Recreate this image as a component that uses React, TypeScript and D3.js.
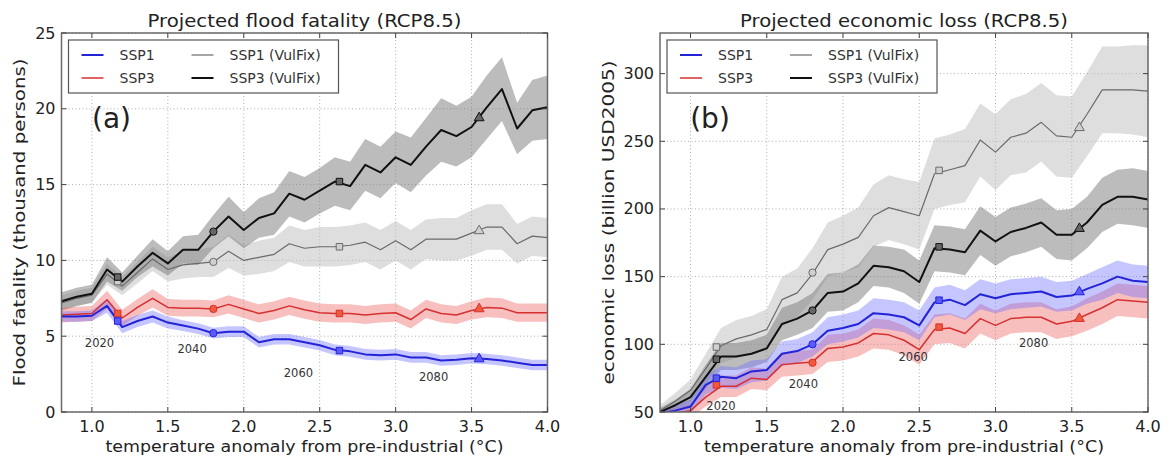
import React from 'react';
import * as d3 from 'd3';

// temperature anomaly from pre-industrial (°C) of every simulated point
const temps = [0.8, 0.9, 1.0, 1.1, 1.2, 1.3, 1.4, 1.5, 1.6, 1.7, 1.8, 1.9, 2.0, 2.1, 2.2, 2.3, 2.4, 2.5, 2.6, 2.7, 2.8, 2.9, 3.0, 3.1, 3.2, 3.3, 3.4, 3.5, 3.6, 3.7, 3.8, 3.9, 4.0];
const xTicks = [1.0, 1.5, 2.0, 2.5, 3.0, 3.5, 4.0];

// years marked on the curves
const markTemps = [1.17, 1.8, 2.63, 3.55];
const markYears = ['2020', '2040', '2060', '2080'];

// (a) flood fatality, thousand persons (value and half spread of the band)
const fatSsp1 = [6.3, 6.3, 6.35, 7.0, 5.6, 6.0, 6.3, 5.9, 5.7, 5.5, 5.2, 5.3, 5.3, 4.6, 4.8, 4.8, 4.6, 4.4, 4.1, 4.0, 3.8, 3.75, 3.8, 3.6, 3.6, 3.4, 3.45, 3.55, 3.5, 3.4, 3.25, 3.1, 3.1];
const fatSsp1Hw = [0.35, 0.35, 0.35, 0.45, 0.4, 0.4, 0.4, 0.4, 0.35, 0.35, 0.35, 0.35, 0.35, 0.35, 0.35, 0.35, 0.35, 0.35, 0.35, 0.35, 0.35, 0.35, 0.35, 0.35, 0.35, 0.35, 0.35, 0.35, 0.35, 0.35, 0.35, 0.35, 0.35];
const fatSsp3 = [6.4, 6.45, 6.5, 7.4, 6.2, 6.9, 7.5, 6.9, 6.85, 6.85, 6.8, 7.1, 6.8, 6.5, 6.7, 7.0, 6.75, 6.55, 6.5, 6.5, 6.4, 6.5, 6.55, 6.1, 6.8, 6.5, 6.4, 6.7, 6.9, 6.85, 6.55, 6.55, 6.55];
const fatSsp3Hw = [0.5, 0.5, 0.5, 0.6, 0.55, 0.55, 0.6, 0.55, 0.55, 0.55, 0.55, 0.6, 0.6, 0.6, 0.6, 0.6, 0.6, 0.6, 0.6, 0.6, 0.6, 0.6, 0.6, 0.6, 0.6, 0.6, 0.6, 0.6, 0.65, 0.65, 0.6, 0.6, 0.6];
const fatSsp1Vul = [7.2, 7.5, 7.7, 9.1, 8.3, 9.2, 10.1, 9.4, 9.7, 9.8, 9.9, 10.6, 10.0, 10.2, 10.4, 11.1, 10.8, 10.9, 10.9, 11.0, 11.2, 10.7, 11.3, 10.7, 11.4, 11.4, 11.4, 11.8, 12.2, 12.2, 11.1, 11.6, 11.5];
const fatSsp1VulHw = [0.5, 0.5, 0.5, 0.7, 0.6, 0.7, 0.8, 0.8, 0.9, 0.9, 1.0, 1.1, 1.0, 1.1, 1.1, 1.2, 1.2, 1.3, 1.3, 1.3, 1.3, 1.3, 1.3, 1.3, 1.3, 1.4, 1.4, 1.5, 1.5, 1.5, 1.3, 1.3, 1.3];
const fatSsp3Vul = [7.3, 7.6, 7.8, 9.4, 8.6, 9.6, 10.5, 9.8, 10.7, 10.7, 11.9, 12.9, 12.0, 12.8, 13.1, 14.4, 14.0, 14.6, 15.2, 14.9, 16.3, 15.8, 16.8, 16.3, 17.5, 18.6, 18.2, 18.8, 20.1, 21.3, 18.7, 19.9, 20.1];
const fatSsp3VulHw = [0.6, 0.6, 0.6, 0.8, 0.6, 0.7, 0.9, 0.8, 0.9, 1.0, 1.1, 1.3, 1.2, 1.3, 1.4, 1.5, 1.5, 1.5, 1.6, 1.6, 1.7, 1.7, 1.7, 1.8, 1.9, 2.1, 2.0, 2.0, 2.1, 2.1, 1.7, 2.0, 2.1];
const fatMarkSsp1 = [6.0, 5.2, 4.05, 3.5];
const fatMarkSsp3 = [6.5, 6.8, 6.5, 6.8];
const fatMarkSsp1Vul = [8.6, 9.9, 10.9, 11.95];
const fatMarkSsp3Vul = [8.9, 11.9, 15.2, 19.4];
const fatYearT = [1.05, 1.66, 2.36, 3.25];
const fatYearV = [4.55, 4.15, 2.6, 2.3];
const fatTicks = [0, 5, 10, 15, 20, 25];

// (b) economic loss, billion USD2005
const lossSsp1 = [49, 51, 54, 70, 76, 75, 80, 81, 93, 95, 100, 110, 112, 115, 123, 122, 120, 114, 131, 133, 129, 137, 134, 137, 138, 139, 135, 136, 141, 145, 150, 147, 146];
const lossSsp1Hw = [3, 4, 5, 7, 8, 8, 8, 8, 9, 9, 9, 10, 10, 10, 11, 11, 11, 11, 11, 11, 11, 11, 11, 11, 11, 11, 11, 11, 11, 12, 12, 12, 12];
const lossSsp3 = [47, 49, 51, 61, 69, 69, 75, 74, 85, 86, 87, 97, 98, 101, 108, 107, 103, 96, 111, 112, 108, 119, 114, 119, 120, 120, 115, 117, 122, 127, 133, 132, 131];
const lossSsp3Hw = [3, 4, 5, 7, 8, 8, 8, 8, 9, 9, 9, 10, 10, 10, 11, 11, 11, 11, 11, 11, 11, 11, 11, 11, 11, 11, 11, 11, 12, 12, 12, 12, 12];
const lossSsp1Vul = [51, 58, 66, 82, 99, 104, 107, 111, 133, 138, 152, 170, 174, 179, 195, 201, 198, 195, 226, 229, 232, 251, 242, 253, 256, 264, 254, 253, 270, 288, 288, 288, 287];
const lossSsp1VulHw = [4, 6, 8, 11, 13, 14, 14, 15, 17, 18, 19, 20, 21, 22, 23, 24, 24, 25, 26, 26, 27, 27, 28, 28, 29, 29, 30, 30, 31, 32, 32, 33, 34];
const lossSsp3Vul = [50, 55, 61, 76, 91, 91, 93, 97, 115, 119, 125, 138, 139, 145, 158, 157, 154, 146, 171, 170, 168, 184, 176, 183, 186, 190, 181, 181, 190, 203, 209, 209, 207];
const lossSsp3VulHw = [3, 4, 6, 9, 10, 10, 10, 10, 12, 12, 13, 14, 14, 14, 15, 15, 16, 16, 17, 17, 17, 18, 18, 18, 18, 18, 18, 19, 19, 20, 20, 21, 21];
const lossMarkSsp1 = [75, 100, 132.6, 138.7];
const lossMarkSsp3 = [70, 86.4, 112.7, 119];
const lossMarkSsp1Vul = [98, 153, 228.5, 260];
const lossMarkSsp3Vul = [89, 125, 172, 185.5];
const lossYearT = [1.2, 1.74, 2.46, 3.25];
const lossYearV = [54.4, 70.6, 90.6, 100.9];
const lossTicks = [50, 100, 150, 200, 250, 300];

const STYLE = {
  ssp1: { line: '#2323d8', width: 2, band: '#6f6fff', op: 0.4, fill: '#5a5aff' },
  ssp3: { line: '#d63030', width: 1.5, band: '#f07070', op: 0.45, fill: '#ee5a3a' },
  ssp1Vul: { line: '#6a6a6a', width: 1.2, band: '#bdbdbd', op: 0.5, fill: '#d0d0d0' },
  ssp3Vul: { line: '#111', width: 2, band: '#7a7a7a', op: 0.5, fill: '#666' },
};
const shapes = [d3.symbolSquare, d3.symbolCircle, d3.symbolSquare, d3.symbolTriangle];

function Panel(props) {
  const { id, left, right, top, bottom, yDomain, yTicks, title, titleLen, yLabel, yLabelX, yLabelLen, xLabelLen, tag, series, yearT, yearV } = props;
  const x = d3.scaleLinear().domain([0.8, 4.0]).range([left, right]);
  const y = d3.scaleLinear().domain(yDomain).range([bottom, top]);
  const cx = (left + right) / 2;
  const cy = (top + bottom) / 2;
  const legX = left + 7;
  const legY = 40;
  const legend = [
    { label: 'SSP1', st: STYLE.ssp1, col: 0, row: 0 },
    { label: 'SSP3', st: STYLE.ssp3, col: 0, row: 1 },
    { label: 'SSP1 (VulFix)', st: STYLE.ssp1Vul, col: 1, row: 0 },
    { label: 'SSP3 (VulFix)', st: STYLE.ssp3Vul, col: 1, row: 1 },
  ];
  return (
    <g>
      <defs>
        <clipPath id={id}>
          <rect x={left} y={top} width={right - left} height={bottom - top} />
        </clipPath>
      </defs>
      {/* grid */}
      {xTicks.map((t) => (
        <line key={'gx' + t} x1={x(t)} x2={x(t)} y1={top} y2={bottom} stroke="#9a9a9a" strokeWidth={0.8} strokeDasharray="1,2.5" />
      ))}
      {yTicks.map((t) => (
        <line key={'gy' + t} x1={left} x2={right} y1={y(t)} y2={y(t)} stroke="#9a9a9a" strokeWidth={0.8} strokeDasharray="1,2.5" />
      ))}
      <g clipPath={`url(#${id})`}>
        {series.map((s) => {
          const area = d3
            .area()
            .x((_, i) => x(temps[i]))
            .y0((d, i) => y(d - s.hw[i]))
            .y1((d, i) => y(d + s.hw[i]));
          return <path key={'b' + s.key} d={area(s.values)} fill={s.st.band} fillOpacity={s.st.op} stroke="none" />;
        })}
        {series.map((s) => {
          const line = d3
            .line()
            .x((_, i) => x(temps[i]))
            .y((d) => y(d));
          return <path key={'l' + s.key} d={line(s.values)} fill="none" stroke={s.st.line} strokeWidth={s.st.width} strokeLinejoin="round" />;
        })}
        {series.map((s) =>
          s.marks.map((v, i) => (
            <path
              key={'m' + s.key + i}
              d={d3.symbol().type(shapes[i]).size(42)()}
              transform={`translate(${x(markTemps[i])},${y(v)})`}
              fill={s.st.fill}
              stroke={s.st.line}
              strokeWidth={1}
            />
          ))
        )}
      </g>
      {yearT.map((t, i) => (
        <text key={'yr' + i} x={x(t)} y={y(yearV[i])} fontSize={11.5} fill="#333" textAnchor="middle" dominantBaseline="central">
          {markYears[i]}
        </text>
      ))}
      {/* frame and ticks */}
      <rect x={left} y={top} width={right - left} height={bottom - top} fill="none" stroke="#6a6a6a" strokeWidth={1.5} />
      {xTicks.map((t) => (
        <g key={'tx' + t}>
          <line x1={x(t)} x2={x(t)} y1={bottom} y2={bottom - 5} stroke="#444" />
          <line x1={x(t)} x2={x(t)} y1={top} y2={top + 5} stroke="#444" />
          <text x={x(t)} y={432} fontSize={16} fill="#222" textAnchor="middle">
            {d3.format('.1f')(t)}
          </text>
        </g>
      ))}
      {yTicks.map((t) => (
        <g key={'ty' + t}>
          <line x1={left} x2={left + 5} y1={y(t)} y2={y(t)} stroke="#444" />
          <line x1={right} x2={right - 5} y1={y(t)} y2={y(t)} stroke="#444" />
          <text x={left - 6} y={y(t)} fontSize={16} fill="#222" textAnchor="end" dominantBaseline="central">
            {t}
          </text>
        </g>
      ))}
      <text x={cx} y={27} fontSize={17} fill="#222" textAnchor="middle" textLength={titleLen} lengthAdjust="spacingAndGlyphs">
        {title}
      </text>
      <text x={cx} y={452} fontSize={16} fill="#222" textAnchor="middle" textLength={xLabelLen} lengthAdjust="spacingAndGlyphs">
        temperature anomaly from pre-industrial (°C)
      </text>
      <text
        transform={`translate(${yLabelX},${cy}) rotate(-90)`}
        fontSize={16}
        fill="#222"
        textAnchor="middle"
        textLength={yLabelLen}
        lengthAdjust="spacingAndGlyphs"
      >
        {yLabel}
      </text>
      <text x={left + 50} y={128} fontSize={28} fill="#222" textAnchor="middle">
        {tag}
      </text>
      {/* legend */}
      <rect x={legX} y={legY} width={270} height={53} fill="#fff" stroke="#555" strokeWidth={1.2} />
      {legend.map((d) => {
        const lx = legX + 13 + d.col * 110;
        const ly = legY + 15 + d.row * 23;
        return (
          <g key={d.label}>
            <line x1={lx} x2={lx + 22} y1={ly} y2={ly} stroke={d.st.line} strokeWidth={d.st.width} />
            <text x={lx + 38} y={ly} fontSize={14} fill="#333" dominantBaseline="central">
              {d.label}
            </text>
          </g>
        );
      })}
    </g>
  );
}

export default function App() {
  const fatSeries = [
    { key: 's1v', values: fatSsp1Vul, hw: fatSsp1VulHw, marks: fatMarkSsp1Vul, st: STYLE.ssp1Vul },
    { key: 's3v', values: fatSsp3Vul, hw: fatSsp3VulHw, marks: fatMarkSsp3Vul, st: STYLE.ssp3Vul },
    { key: 's3', values: fatSsp3, hw: fatSsp3Hw, marks: fatMarkSsp3, st: STYLE.ssp3 },
    { key: 's1', values: fatSsp1, hw: fatSsp1Hw, marks: fatMarkSsp1, st: STYLE.ssp1 },
  ];
  const lossSeries = [
    { key: 's1v', values: lossSsp1Vul, hw: lossSsp1VulHw, marks: lossMarkSsp1Vul, st: STYLE.ssp1Vul },
    { key: 's3v', values: lossSsp3Vul, hw: lossSsp3VulHw, marks: lossMarkSsp3Vul, st: STYLE.ssp3Vul },
    { key: 's3', values: lossSsp3, hw: lossSsp3Hw, marks: lossMarkSsp3, st: STYLE.ssp3 },
    { key: 's1', values: lossSsp1, hw: lossSsp1Hw, marks: lossMarkSsp1, st: STYLE.ssp1 },
  ];
  return (
    <svg
      width={1170}
      height={460}
      style={{ position: 'absolute', left: 0, top: 0, background: '#fff' }}
      fontFamily="'DejaVu Sans', sans-serif"
    >
      <Panel
        id="clip-a"
        left={61.5}
        right={547.5}
        top={33}
        bottom={412}
        yDomain={[0, 25]}
        yTicks={fatTicks}
        title="Projected flood fatality (RCP8.5)"
        titleLen={314}
        yLabel="Flood fatality (thousand persons)"
        yLabelX={25}
        yLabelLen={328}
        xLabelLen={398}
        tag="(a)"
        series={fatSeries}
        yearT={fatYearT}
        yearV={fatYearV}
      />
      <Panel
        id="clip-b"
        left={660}
        right={1148}
        top={33}
        bottom={412}
        yDomain={[50, 330]}
        yTicks={lossTicks}
        title="Projected economic loss (RCP8.5)"
        titleLen={328}
        yLabel="economic loss (billion USD2005)"
        yLabelX={614}
        yLabelLen={324}
        xLabelLen={400}
        tag="(b)"
        series={lossSeries}
        yearT={lossYearT}
        yearV={lossYearV}
      />
    </svg>
  );
}
